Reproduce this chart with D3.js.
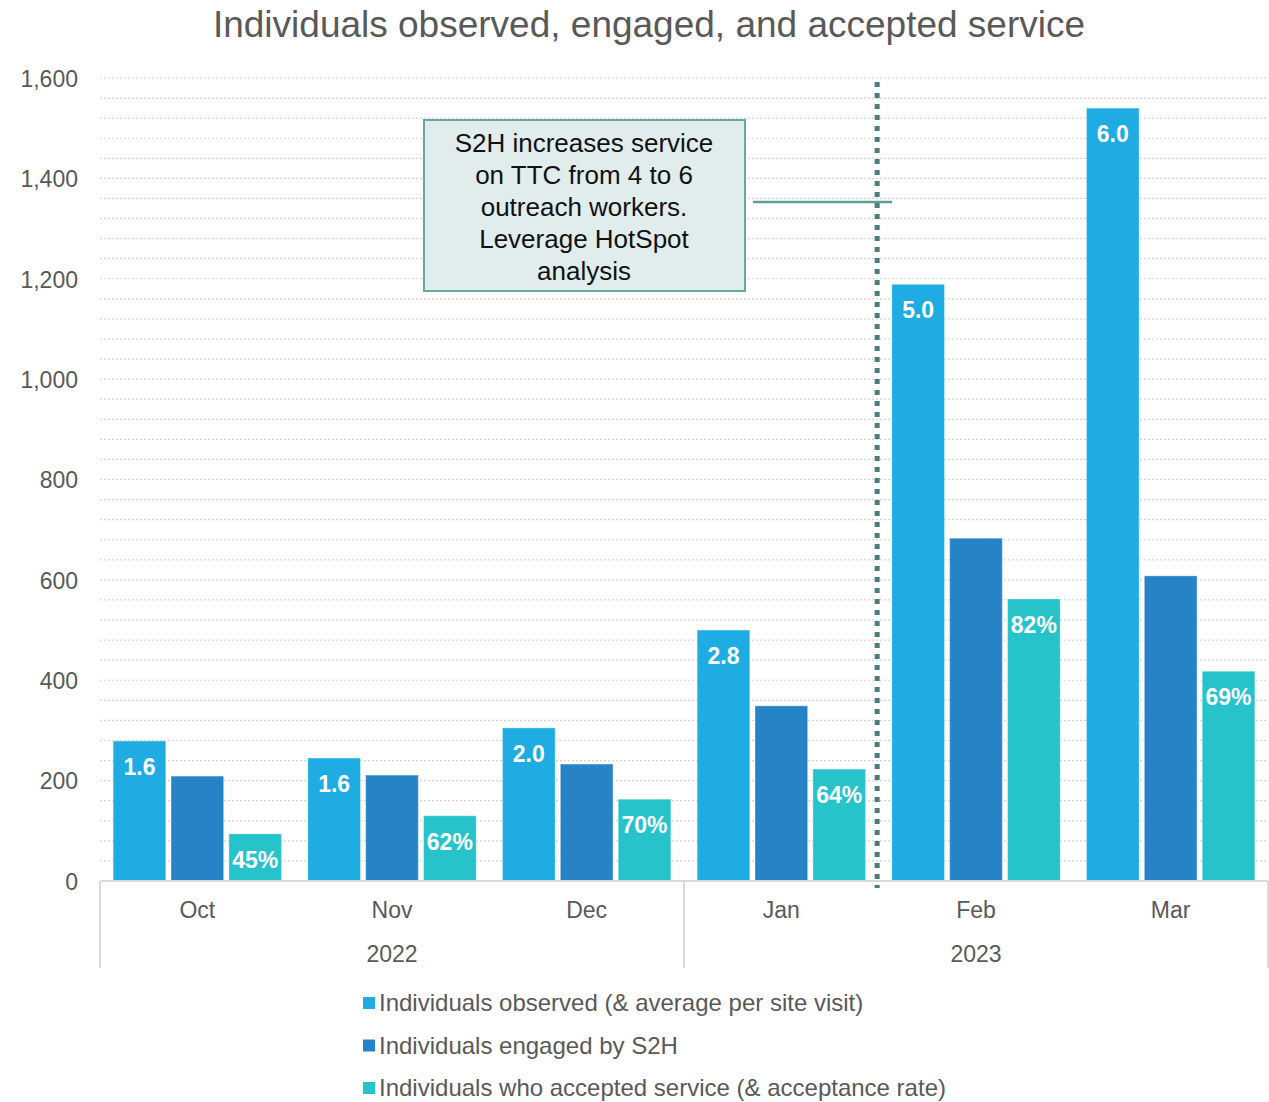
<!DOCTYPE html>
<html>
<head>
<meta charset="utf-8">
<script src="https://cdn.jsdelivr.net/npm/d3@7"></script>
<style>
  html, body { margin: 0; padding: 0; background: #fff; }
  svg { display: block; font-family: "Liberation Sans", Arial, sans-serif; }
</style>
</head>
<body>
<div id="chart"></div>
<script>
// ---- data ----
const months = ["Oct", "Nov", "Dec", "Jan", "Feb", "Mar"];
const years = ["2022", "2022", "2022", "2023", "2023", "2023"];
const yearGroups = ["2022", "2023"];
const seriesNames = [
  "Individuals observed (& average per site visit)",
  "Individuals engaged by S2H",
  "Individuals who accepted service (& acceptance rate)"
];
const observed = [279, 245, 305, 500, 1189, 1540];
const engaged = [209, 211, 233, 349, 683, 608];
const accepted = [94, 130, 163, 223, 562, 418];
const avgPerVisit = ["1.6", "1.6", "2.0", "2.8", "5.0", "6.0"];
const acceptanceRate = ["45%", "62%", "70%", "64%", "82%", "69%"];
const yTicks = [0, 200, 400, 600, 800, 1000, 1200, 1400, 1600];
const titleText = "Individuals observed, engaged, and accepted service";
const noteLines = ["S2H increases service", "on TTC from 4 to 6", "outreach workers.", "Leverage HotSpot", "analysis"];

// ---- styles ----
const colors = ["#1EACE3", "#2683C6", "#27C3CA"];
const textGray = "#595959";
const W = 1269, H = 1102;
const plot = { left: 100, right: 1268, top: 78, bottom: 881 };

const svg = d3.select("#chart").append("svg").attr("width", W).attr("height", H);

const x = d3.scaleBand().domain(months).range([plot.left, plot.right])
  .paddingInner(0.135).paddingOuter(0.0675);
const xs = d3.scaleBand().domain([0, 1, 2]).range([0, x.bandwidth()]).paddingInner(0.09);
const y = d3.scaleLinear().domain([0, 1600]).range([plot.bottom, plot.top]);

// title
svg.append("text").attr("x", 649).attr("y", 37).attr("text-anchor", "middle")
  .attr("font-size", 37).attr("fill", textGray).text(titleText);

// gridlines (minor every 40)
const gridVals = d3.range(40, 1601, 40);
svg.append("g").selectAll("line").data(gridVals).join("line")
  .attr("x1", plot.left).attr("x2", plot.right)
  .attr("y1", d => y(d)).attr("y2", d => y(d))
  .attr("stroke", "#d4d4d4").attr("stroke-width", 1.2).attr("stroke-dasharray", "2 2");

// y axis labels
const yAxis = d3.axisLeft(y).tickValues(yTicks).tickFormat(d3.format(",")).tickSize(0).tickPadding(0);
const gy = svg.append("g").attr("transform", `translate(78,0)`).call(yAxis);
gy.select(".domain").remove();
gy.selectAll("text").attr("font-size", 23).attr("fill", textGray)
  .attr("font-family", "Liberation Sans, Arial, sans-serif").attr("dy", "0.36em");

// bars
const seriesData = [observed, engaged, accepted];
const groups = svg.append("g");
seriesData.forEach((vals, si) => {
  groups.append("g").selectAll("rect").data(vals).join("rect")
    .attr("x", (d, i) => x(months[i]) + xs(si))
    .attr("width", xs.bandwidth())
    .attr("y", d => y(d))
    .attr("height", d => y(0) - y(d))
    .attr("fill", colors[si])
    .attr("stroke", "#ffffff").attr("stroke-opacity", 0.35).attr("stroke-width", 1);
});

// bar value labels
const labelSets = [[observed, avgPerVisit, 0], [accepted, acceptanceRate, 2]];
labelSets.forEach(([vals, labels, si]) => {
  svg.append("g").selectAll("text").data(vals).join("text")
    .attr("x", (d, i) => x(months[i]) + xs(si) + xs.bandwidth() / 2)
    .attr("y", d => y(d) + 34)
    .attr("text-anchor", "middle").attr("font-size", 23).attr("font-weight", "bold")
    .attr("fill", "#ffffff")
    .text((d, i) => labels[i]);
});

// x axis line
svg.append("line").attr("x1", plot.left).attr("x2", plot.right)
  .attr("y1", plot.bottom).attr("y2", plot.bottom)
  .attr("stroke", "#d9d9d9").attr("stroke-width", 2);

// month labels
svg.append("g").selectAll("text").data(months).join("text")
  .attr("x", d => x(d) + x.bandwidth() / 2).attr("y", 918)
  .attr("text-anchor", "middle").attr("font-size", 23).attr("fill", textGray).text(d => d);

// year groups
const yearExtent = yg => {
  const ms = months.filter((m, i) => years[i] === yg);
  const x0 = x(ms[0]) - x.step() * x.paddingOuter();
  const x1 = x(ms[ms.length - 1]) + x.bandwidth() + x.step() * x.paddingOuter();
  return [x0, x1];
};
const dividers = new Set();
yearGroups.forEach(yg => {
  const [a, b] = yearExtent(yg);
  dividers.add(Math.round(a * 10) / 10);
  dividers.add(Math.round(b * 10) / 10);
  svg.append("text").attr("x", (a + b) / 2).attr("y", 962).attr("text-anchor", "middle")
    .attr("font-size", 23).attr("fill", textGray).text(yg);
});
svg.append("g").selectAll("line").data([...dividers]).join("line")
  .attr("x1", d => d).attr("x2", d => d).attr("y1", plot.bottom).attr("y2", 968)
  .attr("stroke", "#d9d9d9").attr("stroke-width", 2);

// vertical dotted separator between Jan and Feb
const sepX = x("Feb") - x.step() * x.paddingOuter() - 1.5;
svg.append("line").attr("x1", sepX).attr("x2", sepX).attr("y1", 82).attr("y2", 888)
  .attr("stroke", "#4B7C77").attr("stroke-width", 5).attr("stroke-dasharray", "5 6");

// annotation connector
svg.append("line").attr("x1", 753).attr("x2", 892).attr("y1", 202).attr("y2", 202)
  .attr("stroke", "#5B9E99").attr("stroke-width", 2.5);

// annotation box
svg.append("rect").attr("x", 424).attr("y", 120).attr("width", 321).attr("height", 171)
  .attr("fill", "#E0EDEC").attr("stroke", "#6AA7A1").attr("stroke-width", 2);
svg.append("g").selectAll("text").data(noteLines).join("text")
  .attr("x", 584).attr("y", (d, i) => 152 + i * 32)
  .attr("text-anchor", "middle").attr("font-size", 26).attr("fill", "#111").text(d => d);

// legend
const lg = svg.append("g");
seriesNames.forEach((name, i) => {
  const cy = 1003 + i * 42.5;
  lg.append("rect").attr("x", 363).attr("y", cy - 6).attr("width", 12).attr("height", 12).attr("fill", colors[i]);
  lg.append("text").attr("x", 379).attr("y", cy + 8).attr("font-size", 24).attr("fill", textGray).text(name);
});
</script>
</body>
</html>
